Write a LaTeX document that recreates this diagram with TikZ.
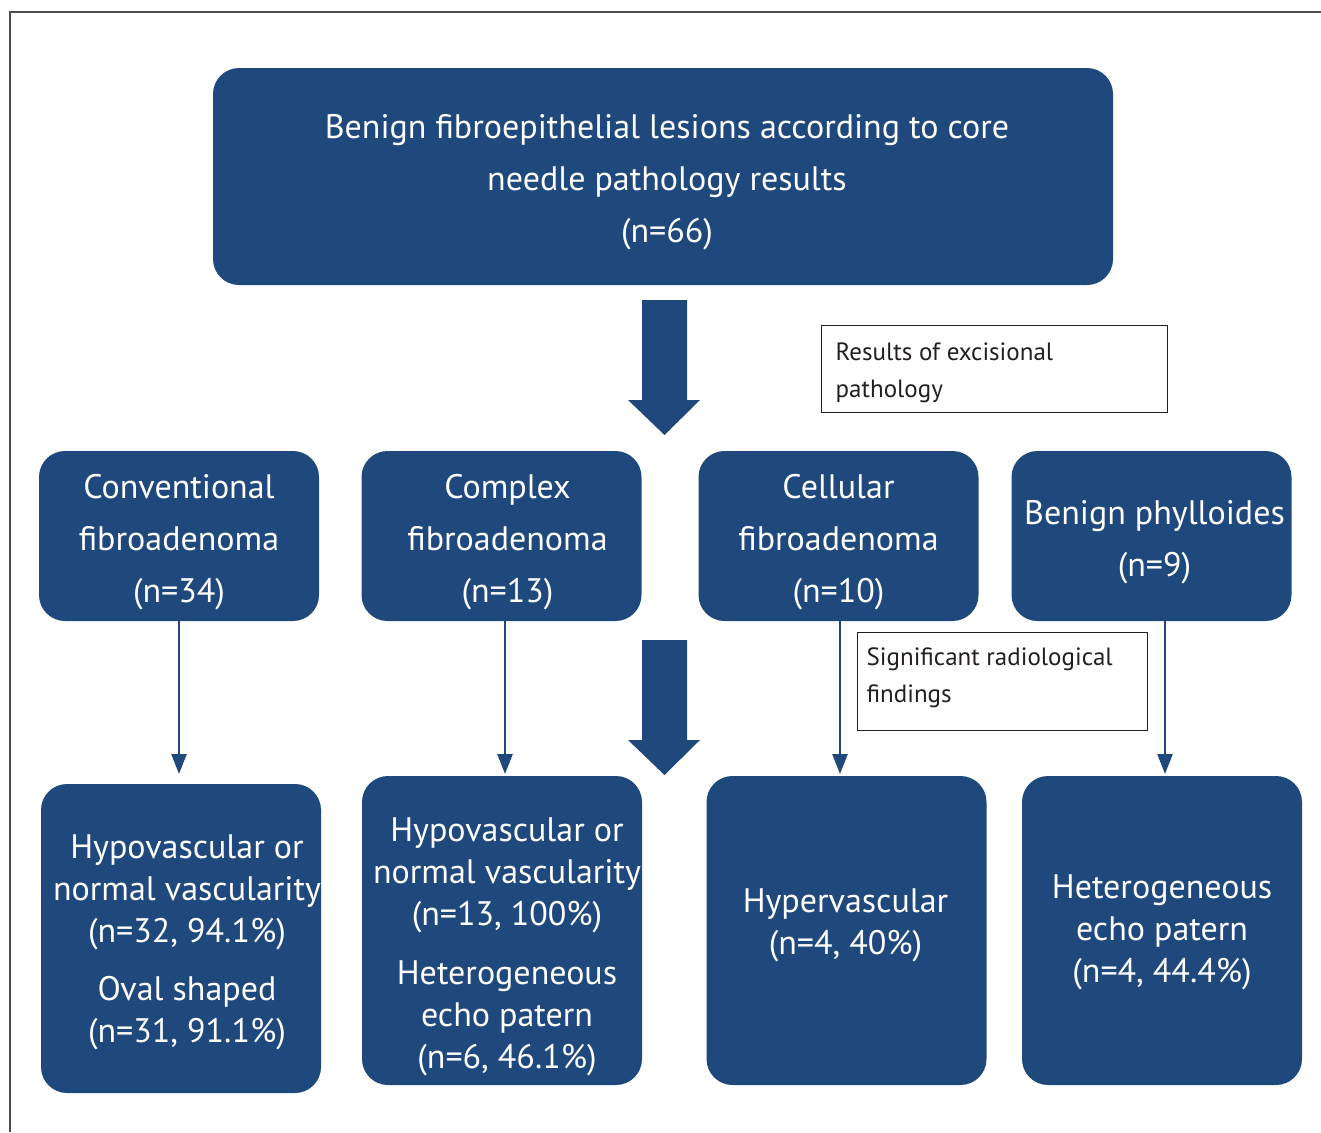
\documentclass[tikz,border=0pt]{standalone}
\usepackage{fontspec}
\setmainfont{PT Sans}
\usetikzlibrary{arrows.meta}
\definecolor{navy}{RGB}{31,73,125}
\definecolor{ink}{RGB}{35,31,32}
\tikzstyle{bigarrow}=[fill=navy,draw=none]
\begin{document}
\begin{tikzpicture}[x=1pt,y=-1pt]
\tikzstyle{pathbox}=[shape=rectangle,rounded corners=26pt,fill=navy,inner sep=0pt,minimum width=280pt,minimum height=170pt]
\tikzstyle{findbox}=[pathbox,minimum height=309pt]
\tikzstyle{pathtext}=[text=white,align=center,inner sep=0pt,font=\fontsize{34}{52}\selectfont]
\tikzstyle{findtext}=[pathtext,font=\fontsize{34}{42}\selectfont]
\tikzstyle{notebox}=[shape=rectangle,draw=ink,line width=1pt,inner sep=0pt]
\tikzstyle{notetext}=[anchor=west,text=ink,align=left,inner sep=0pt,font=\fontsize{25}{37}\selectfont]
\tikzstyle{thin}=[draw=navy,line width=2.5pt,-{Triangle[length=20pt,width=15pt]}]
\useasboundingbox (0,0) rectangle (1321,1132);
\draw[gray!60!black,line width=1.5pt] (1321,12) -- (10,12) -- (10,1132);
% core needle
\node[pathbox,minimum width=900pt,minimum height=217pt] (core) at (663,176.5) {};
\node[pathtext] (coretxt) at ([xshift=4pt,yshift=-6pt]core.center)
  {Benign fibroepithelial lesions according to core\\needle pathology results\\(n=66)};
\fill[bigarrow] (642,300) -- (687,300) -- (687,400) -- (700,400) -- (664.5,435)
  -- (628,400) -- (642,400) -- cycle;
\node[notebox,minimum width=346pt,minimum height=87pt] (excis) at (994,368.5) {};
\node[notetext] (excistxt) at ([xshift=15pt,yshift=-4pt]excis.west) {Results of excisional\\pathology};
% excisional pathology
\node[pathbox] (conv) at (179,536) {};
\node[pathbox] (cplx) at (501.5,536) {};
\node[pathbox] (cell) at (838.5,536) {};
\node[pathbox] (phyl) at (1151.5,536) {};
\node[pathtext] (convtxt) at ([yshift=-6pt]conv.center) {Conventional\\fibroadenoma\\(n=34)};
\node[pathtext] (cplxtxt) at ([xshift=6pt,yshift=-6pt]cplx.center) {Complex\\fibroadenoma\\(n=13)};
\node[pathtext] (celltxt) at ([yshift=-6pt]cell.center) {Cellular\\fibroadenoma\\(n=10)};
\node[pathtext] (phyltxt) at ([xshift=3pt,yshift=-6pt]phyl.center) {Benign phylloides\\(n=9)};
\fill[bigarrow] (642,640) -- (687,640) -- (687,740) -- (700,740) -- (664.5,775)
  -- (628,740) -- (642,740) -- cycle;
\node[notebox,minimum width=290pt,minimum height=98pt] (radio) at (1002,681) {};
\node[notetext] (radiotxt) at ([xshift=10pt,yshift=3pt]radio.west) {Significant radiological\\findings};
% radiological findings
\node[findbox] (f1) at (181,938.5) {};
\node[findbox] (f2) at (502,930.5) {};
\node[findbox] (f3) at (846.5,930.5) {};
\node[findbox] (f4) at (1162,930.5) {};
\node[findtext] (f1txt) at ([xshift=6pt,yshift=-4pt]f1.center)
  {Hypovascular or\\normal vascularity\\(n=32, 94.1\%)\\[16pt]Oval shaped\\(n=31, 91.1\%)};
\node[findtext] (f2txt) at ([xshift=5pt,yshift=-16pt]f2.center)
  {Hypovascular or\\normal vascularity\\(n=13, 100\%)\\[17pt]Heterogeneous\\echo patern\\(n=6, 46.1\%)};
\node[findtext] (f3txt) at ([xshift=-1pt,yshift=5pt]f3.center) {Hypervascular\\(n=4, 40\%)};
\node[findtext] (f4txt) at ([yshift=-2pt]f4.center) {Heterogeneous\\echo patern\\(n=4, 44.4\%)};
\coordinate (t1) at (179,774);
\coordinate (t2) at (505,774);
\coordinate (t3) at (840,774);
\coordinate (t4) at (1165,774);
\draw[thin] (t1 |- conv.south) -- (t1);
\draw[thin] (t2 |- cplx.south) -- (t2);
\draw[thin] (t3 |- cell.south) -- (t3);
\draw[thin] (t4 |- phyl.south) -- (t4);
\end{tikzpicture}
\end{document}
